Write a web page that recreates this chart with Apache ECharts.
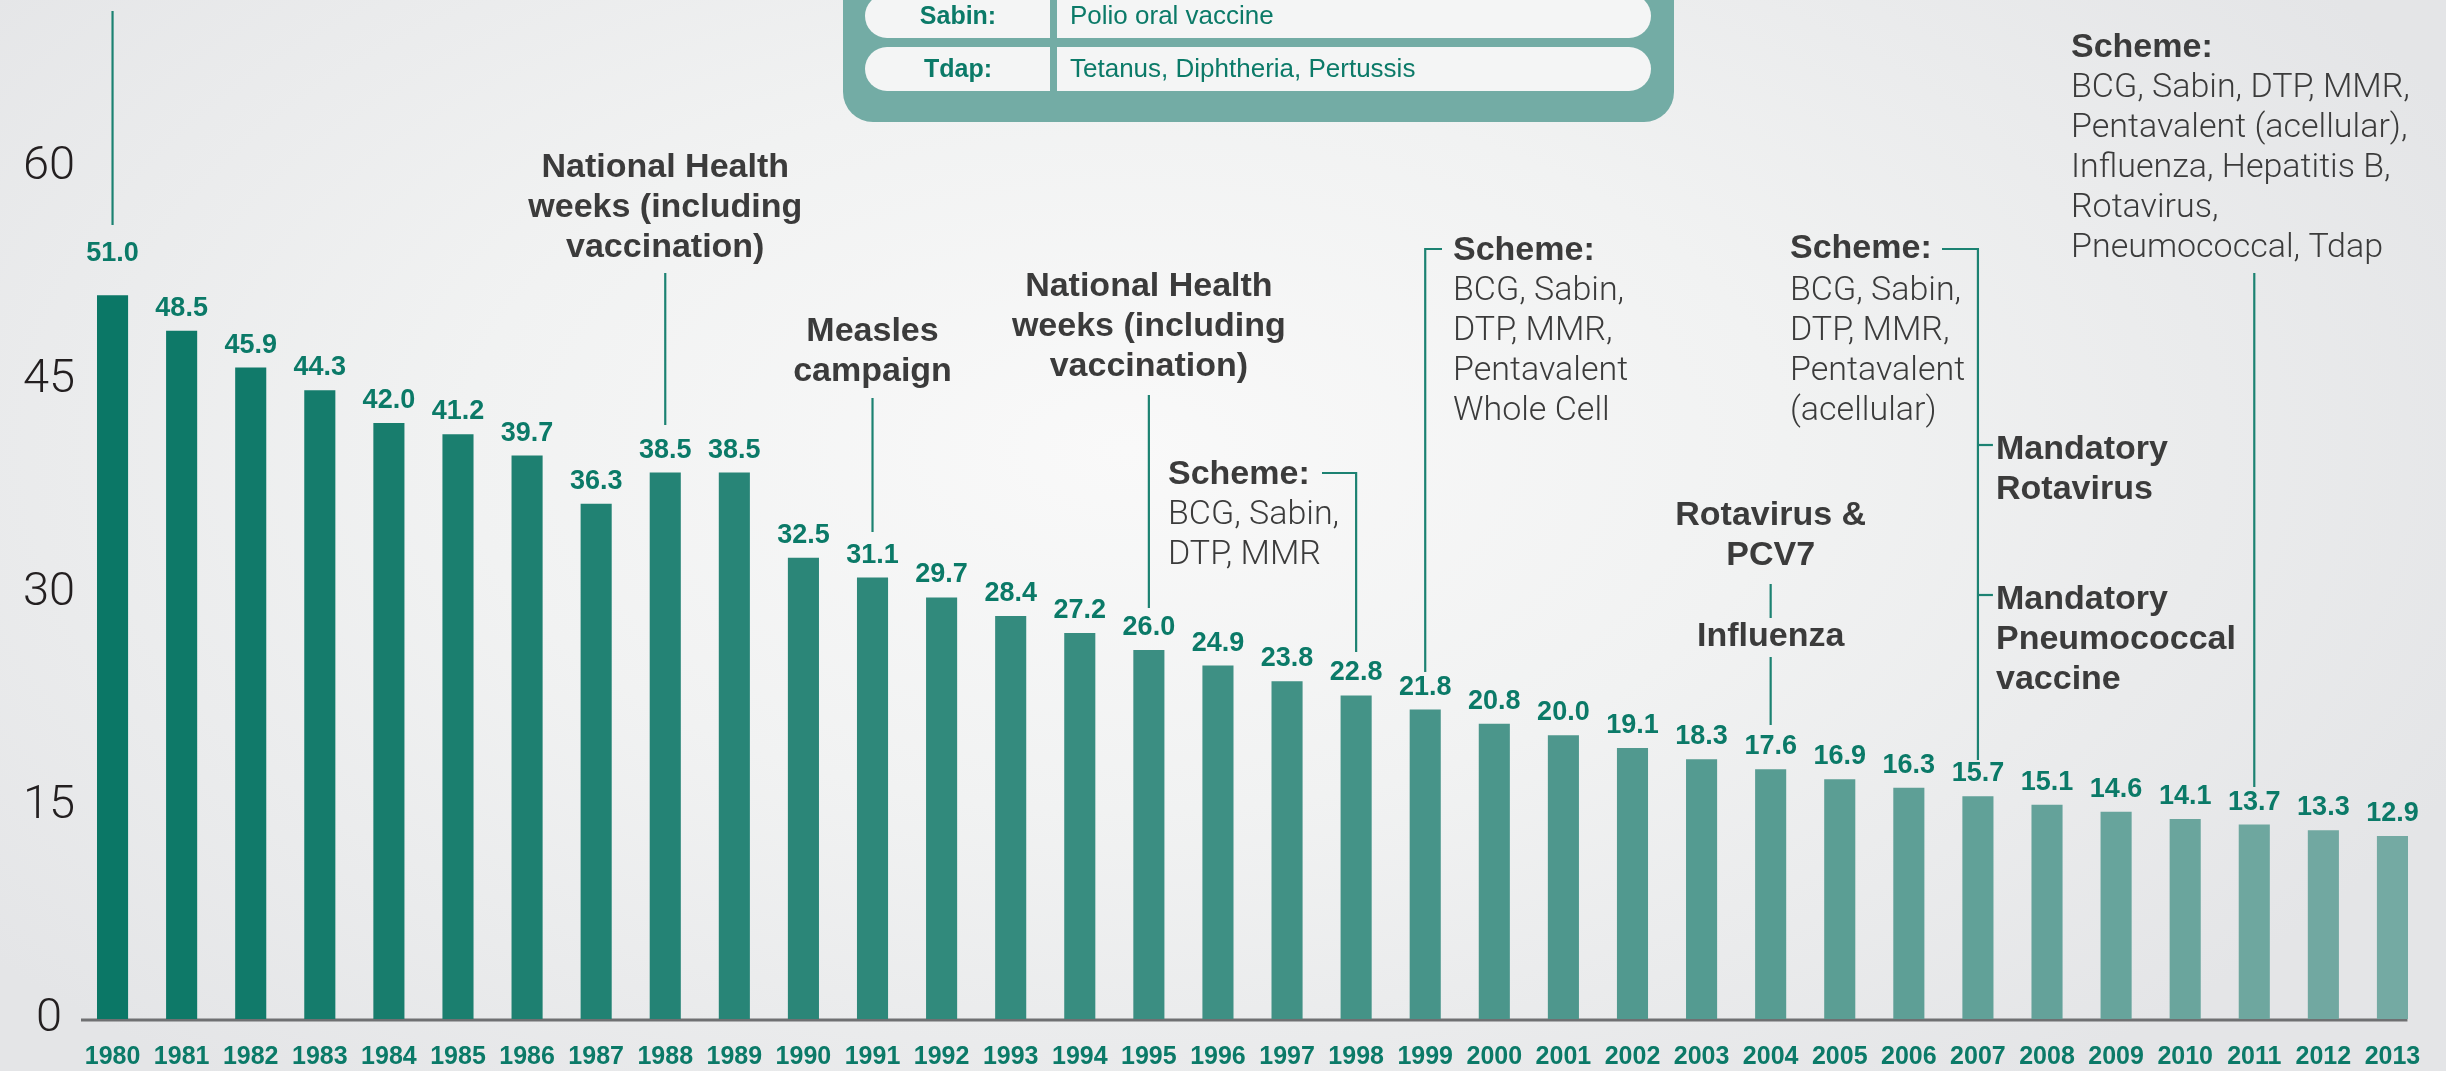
<!DOCTYPE html>
<html>
<head>
<meta charset="utf-8">
<script src="https://cdn.jsdelivr.net/npm/echarts@6/dist/echarts.min.js"></script>
<style>
  html, body { margin: 0; padding: 0; }
  body {
    width: 2446px; height: 1071px; overflow: hidden;
    background: radial-gradient(ellipse 60% 75% at 46% 42%, #f9f9f9 0%, #f1f2f2 45%, #e4e5e7 100%);
  }
  #main { width: 2446px; height: 1071px; }
</style>
</head>
<body>
<div id="main"></div>
<script type="text/javascript">
// data
var years = ['1980','1981','1982','1983','1984','1985','1986','1987','1988','1989',
             '1990','1991','1992','1993','1994','1995','1996','1997','1998','1999',
             '2000','2001','2002','2003','2004','2005','2006','2007','2008','2009',
             '2010','2011','2012','2013'];
var rates = [51.0, 48.5, 45.9, 44.3, 42.0, 41.2, 39.7, 36.3, 38.5, 38.5,
             32.5, 31.1, 29.7, 28.4, 27.2, 26.0, 24.9, 23.8, 22.8, 21.8,
             20.8, 20.0, 19.1, 18.3, 17.6, 16.9, 16.3, 15.7, 15.1, 14.6,
             14.1, 13.7, 13.3, 12.9];
var yTicks = [0, 15, 30, 45, 60];
var glossary = [['Sabin:', 'Polio oral vaccine'], ['Tdap:', 'Tetanus, Diphtheria, Pertussis']];

var TEAL = '#0b7a68';
var LINE = '#1c8272';
var DARK = '#3b3b3b';
var BOLD = 'bold 34px "Liberation Sans", Arial, sans-serif';
var LIGHT = '300 34px Roboto, "Liberation Sans", sans-serif';

// bar colour fades from dark teal to pale teal
function barColor(i) {
  var a = [11, 119, 102], b = [116, 170, 163], t = i / (years.length - 1);
  return 'rgb(' + a.map(function (v, k) { return Math.round(v + (b[k] - v) * t); }).join(',') + ')';
}

var chart = echarts.init(document.getElementById('main'));
var option = {
  backgroundColor: 'transparent',
  animation: false,
  grid: { left: 78, right: 19, top: 0, bottom: 52 },
  xAxis: {
    type: 'category',
    data: years,
    axisLine: { show: false },
    axisTick: { show: false },
    axisLabel: {
      interval: 0, margin: 26,
      color: TEAL, fontSize: 25, fontWeight: 'bold',
      fontFamily: '"Liberation Sans", Arial, sans-serif'
    }
  },
  yAxis: {
    type: 'value', min: 0, max: 71.8, interval: 15,
    splitLine: { show: false },
    axisLine: { show: false },
    axisTick: { show: false },
    axisLabel: {
      align: 'center', margin: 29,
      color: '#231f20', fontSize: 47, fontWeight: 300,
      fontFamily: 'Roboto, "Liberation Sans", sans-serif',
      formatter: function (v) { return yTicks.indexOf(v) >= 0 ? String(v) : ''; }
    }
  },
  series: [{
    type: 'bar',
    barWidth: '45%',
    data: rates.map(function (v, i) {
      var d = { value: v, itemStyle: { color: barColor(i) } };
      if (i === 0) d.label = { distance: 28 };
      return d;
    }),
    label: {
      show: true, position: 'top', distance: 9,
      color: TEAL, fontSize: 27, fontWeight: 'bold',
      fontFamily: '"Liberation Sans", Arial, sans-serif',
      formatter: function (p) { return p.value.toFixed(1); }
    }
  }]
};
chart.setOption(option);

// annotations placed against the category axis
function xOf(y) { return chart.convertToPixel({ xAxisIndex: 0 }, y); }
function yOf(v) { return chart.convertToPixel({ yAxisIndex: 0 }, v); }
function txt(x, top, lines, font, align) {
  return { type: 'text', silent: true, style: {
    text: lines.join('\n'), x: x, y: top, font: font, fill: DARK,
    textAlign: align || 'center', textVerticalAlign: 'top', lineHeight: 40 } };
}
function seg(pts) {
  return { type: 'polyline', silent: true, shape: { points: pts },
           style: { stroke: LINE, lineWidth: 2.2, fill: null } };
}

var g = [];
// glossary box
g.push({ type: 'rect', shape: { x: 843, y: -60, width: 831, height: 182, r: [0, 0, 30, 30] }, style: { fill: '#73aca5' } });
glossary.forEach(function (row, i) {
  var top = -6 + i * 53;
  g.push({ type: 'rect', shape: { x: 865, y: top, width: 185, height: 44, r: [22, 0, 0, 22] }, style: { fill: '#f4f5f5' } });
  g.push({ type: 'rect', shape: { x: 1057, y: top, width: 594, height: 44, r: [0, 22, 22, 0] }, style: { fill: '#f4f5f5' } });
  g.push({ type: 'text', style: { text: row[0], x: 958, y: top + 23, textAlign: 'center', textVerticalAlign: 'middle',
    font: 'bold 25px "Liberation Sans", Arial, sans-serif', fill: TEAL } });
  g.push({ type: 'text', style: { text: row[1], x: 1070, y: top + 23, textAlign: 'left', textVerticalAlign: 'middle',
    font: '26px "Liberation Sans", Arial, sans-serif', fill: TEAL } });
});

// 1980
g.push(seg([[xOf('1980'), 11], [xOf('1980'), 225]]));
// 1988
g.push(txt(xOf('1988'), 148, ['National Health', 'weeks (including', 'vaccination)'], BOLD));
g.push(seg([[xOf('1988'), 273], [xOf('1988'), 425]]));
// 1991
g.push(txt(xOf('1991'), 312, ['Measles', 'campaign'], BOLD));
g.push(seg([[xOf('1991'), 398], [xOf('1991'), 532]]));
// 1995
g.push(txt(xOf('1995'), 267, ['National Health', 'weeks (including', 'vaccination)'], BOLD));
g.push(seg([[xOf('1995'), 395], [xOf('1995'), 608]]));
// 1998
g.push(txt(1168, 455, ['Scheme:'], BOLD, 'left'));
g.push(txt(1168, 495, ['BCG, Sabin,', 'DTP, MMR'], LIGHT, 'left'));
g.push(seg([[1322, 473], [xOf('1998'), 473], [xOf('1998'), 652]]));
// 1999
g.push(txt(1453, 231, ['Scheme:'], BOLD, 'left'));
g.push(txt(1453, 271, ['BCG, Sabin,', 'DTP, MMR,', 'Pentavalent', 'Whole Cell'], LIGHT, 'left'));
g.push(seg([[1442, 249], [xOf('1999'), 249], [xOf('1999'), 672]]));
// 2004
g.push(txt(xOf('2004'), 496, ['Rotavirus &', 'PCV7'], BOLD));
g.push(seg([[xOf('2004'), 584], [xOf('2004'), 618]]));
g.push(txt(xOf('2004'), 617, ['Influenza'], BOLD));
g.push(seg([[xOf('2004'), 657], [xOf('2004'), 725]]));
// 2007
g.push(txt(1790, 229, ['Scheme:'], BOLD, 'left'));
g.push(txt(1790, 271, ['BCG, Sabin,', 'DTP, MMR,', 'Pentavalent', '(acellular)'], LIGHT, 'left'));
g.push(seg([[1942, 249], [xOf('2007'), 249], [xOf('2007'), 760]]));
g.push(seg([[xOf('2007'), 445], [xOf('2007') + 15, 445]]));
g.push(seg([[xOf('2007'), 595], [xOf('2007') + 15, 595]]));
g.push(txt(1996, 430, ['Mandatory', 'Rotavirus'], BOLD, 'left'));
g.push(txt(1996, 580, ['Mandatory', 'Pneumococcal', 'vaccine'], BOLD, 'left'));
// 2011
g.push(txt(2071, 28, ['Scheme:'], BOLD, 'left'));
g.push(txt(2071, 68, ['BCG, Sabin, DTP, MMR,', 'Pentavalent (acellular),', 'Influenza, Hepatitis B,', 'Rotavirus,', 'Pneumococcal, Tdap'], LIGHT, 'left'));
g.push(seg([[xOf('2011'), 273], [xOf('2011'), 787]]));

// baseline
var y0 = yOf(0);
g.push({ type: 'line', silent: true, shape: { x1: 81, y1: y0 + 1, x2: xOf('2013') + 15, y2: y0 + 1 },
         style: { stroke: '#6f7072', lineWidth: 3 } });

chart.setOption({ graphic: g });
</script>
</body>
</html>
